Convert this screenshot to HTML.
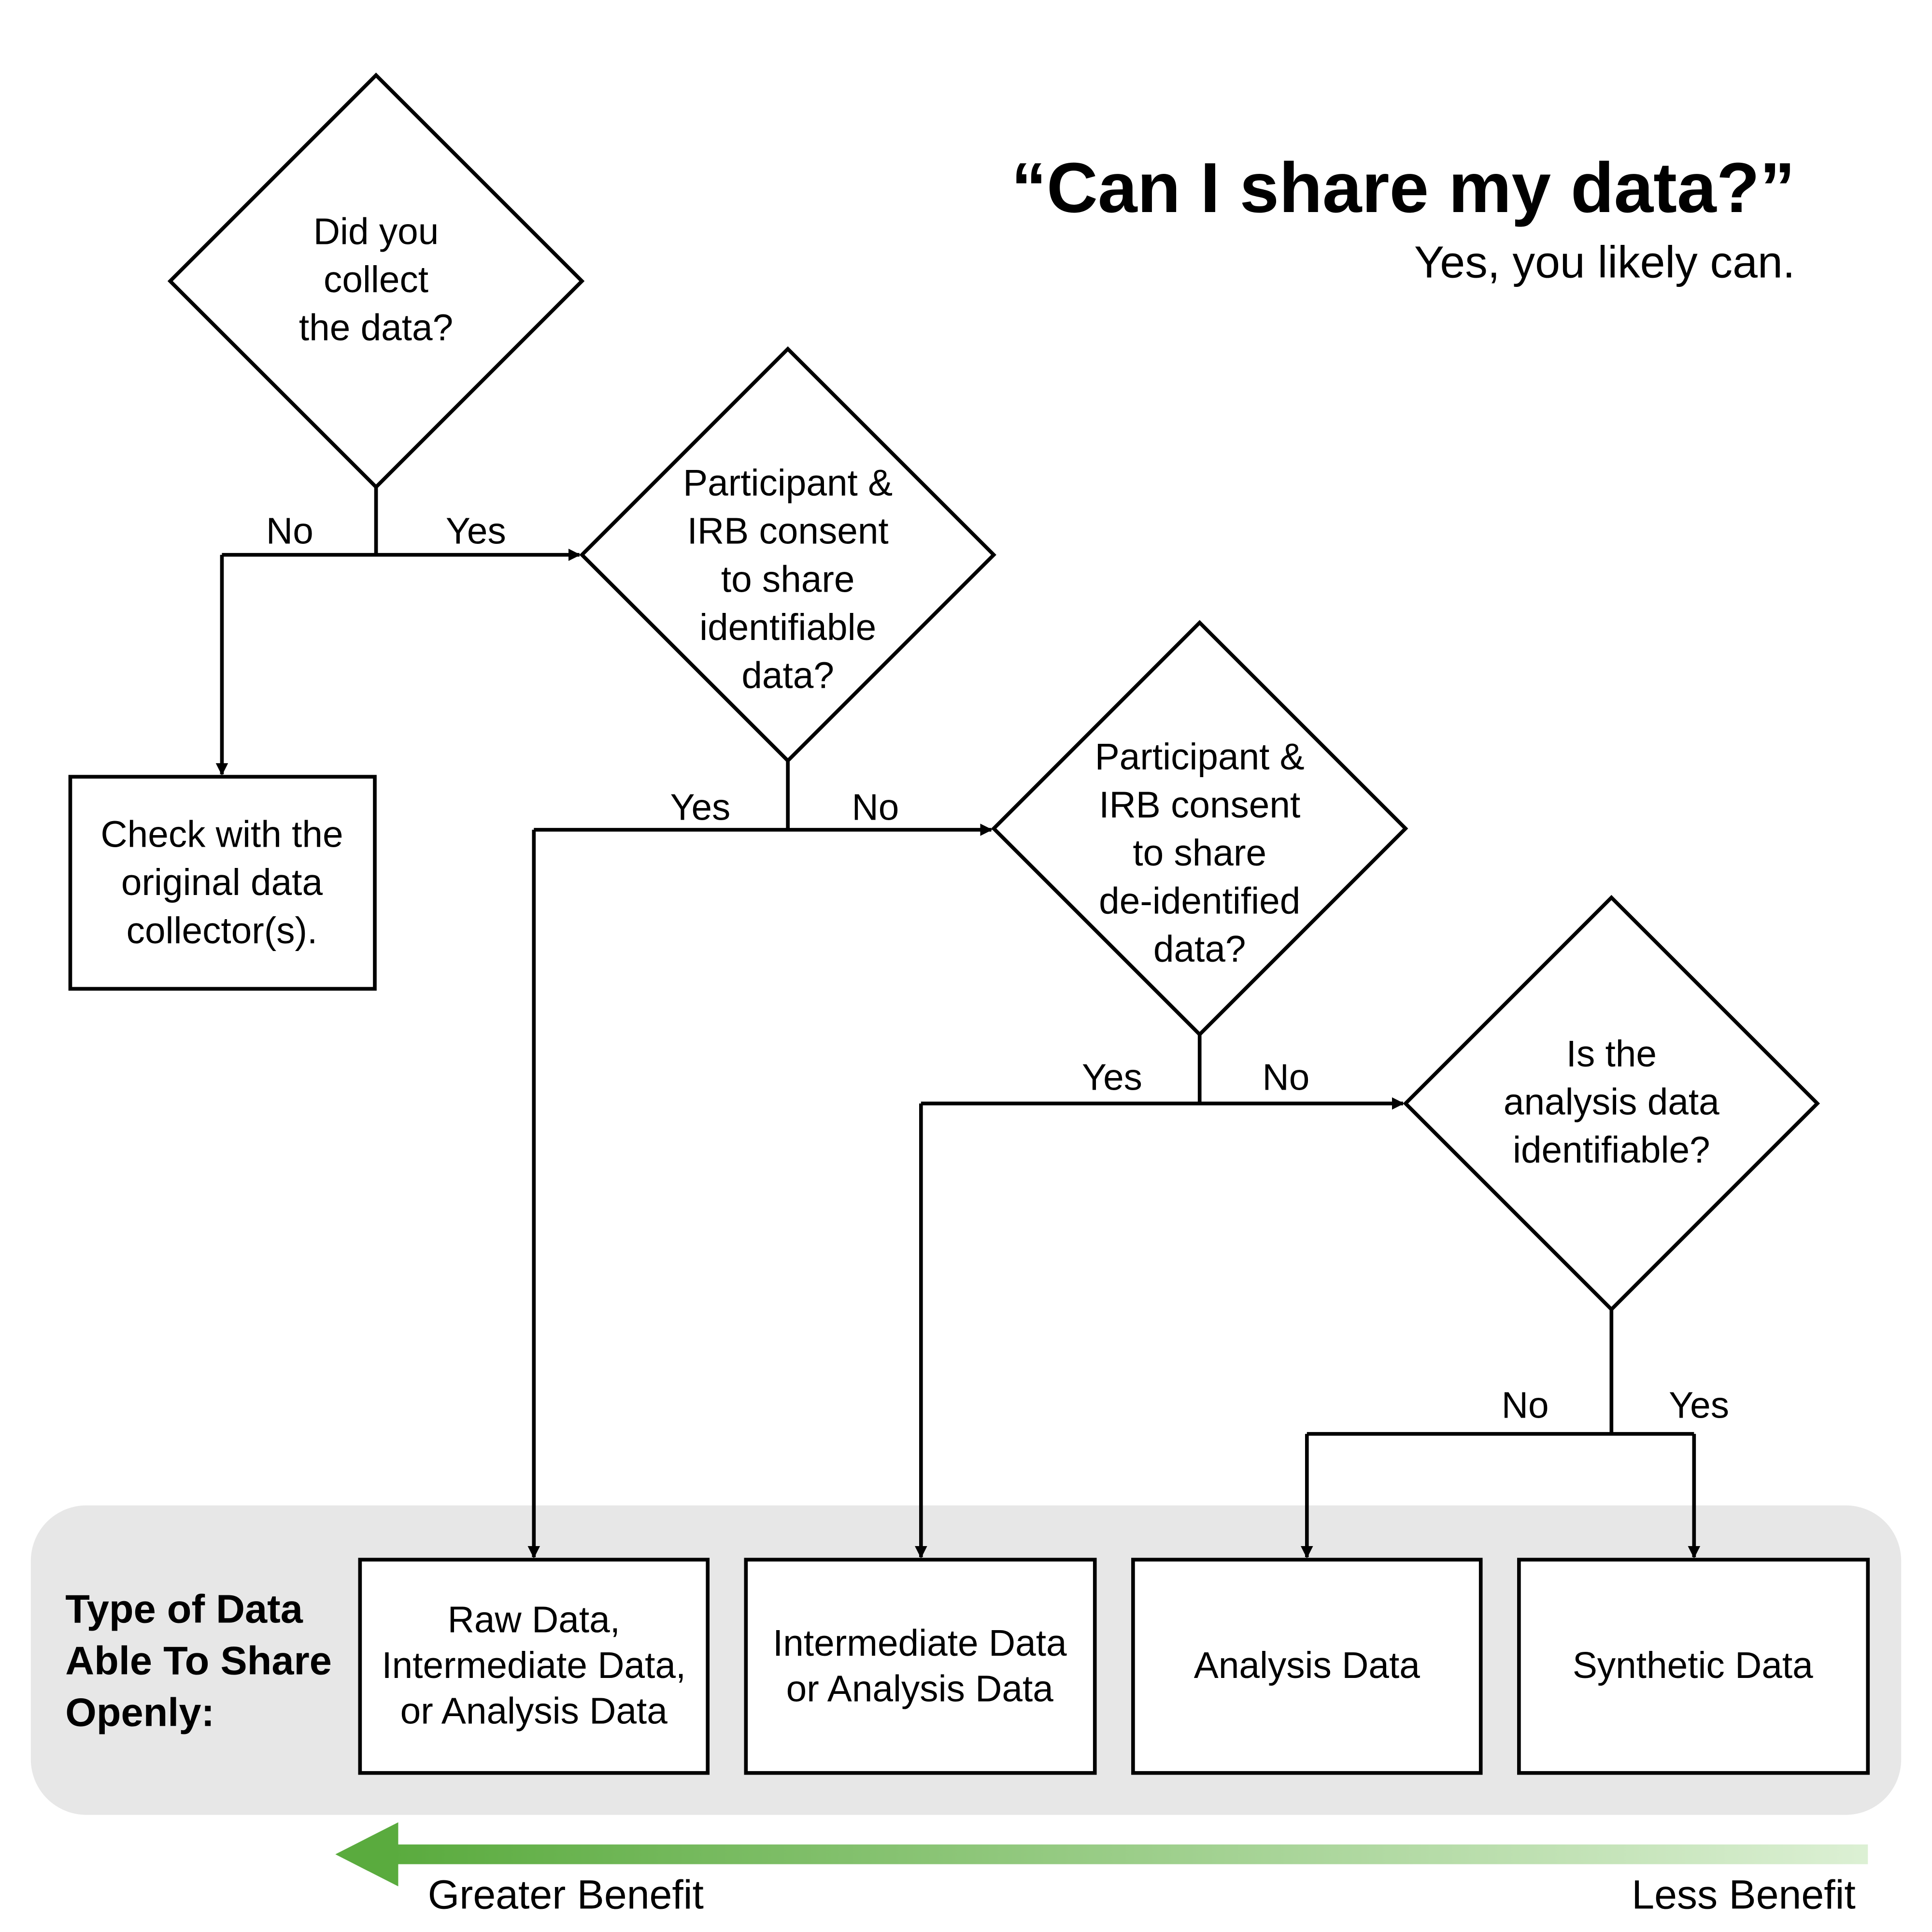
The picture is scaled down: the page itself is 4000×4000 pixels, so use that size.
<!DOCTYPE html>
<html><head><meta charset="utf-8"><style>
html,body{margin:0;padding:0;background:#fff;}
svg{display:block;}
text{font-family:"Liberation Sans",sans-serif;fill:#000;}
</style></head><body>
<svg width="4000" height="4000" viewBox="0 0 1567 1567" xmlns="http://www.w3.org/2000/svg">
<defs>
<marker id="ah" markerWidth="10" markerHeight="10" refX="9" refY="5" orient="auto" markerUnits="userSpaceOnUse">
<path d="M0,0 L10,5 L0,10 z" fill="#000"/></marker>
<linearGradient id="g" x1="0" x2="1" y1="0" y2="0">
<stop offset="0" stop-color="#5aab3e"/><stop offset="1" stop-color="#dcf0d4"/></linearGradient>
</defs>
<rect x="25" y="1221" width="1517" height="251" rx="45" fill="#e7e7e7"/>
<g fill="none" stroke="#000" stroke-width="3">
<polygon points="305,61 472,228 305,395 138,228" fill="#fff"/>
<polygon points="639,283 806,450 639,617 472,450" fill="#fff"/>
<polygon points="973,505 1140,672 973,839 806,672" fill="#fff"/>
<polygon points="1307,728 1474,895 1307,1062 1140,895" fill="#fff"/>
<rect x="57" y="630" width="247" height="172" fill="#fff"/>
<rect x="292" y="1265" width="282" height="173" fill="#fff"/>
<rect x="605" y="1265" width="283" height="173" fill="#fff"/>
<rect x="919" y="1265" width="282" height="173" fill="#fff"/>
<rect x="1232" y="1265" width="283" height="173" fill="#fff"/>
<polyline points="305,395 305,450"/>
<polyline points="180,450 470,450" marker-end="url(#ah)"/>
<polyline points="180,450 180,628" marker-end="url(#ah)"/>
<polyline points="639,617 639,673"/>
<polyline points="433,673 804,673" marker-end="url(#ah)"/>
<polyline points="433,673 433,1263" marker-end="url(#ah)"/>
<polyline points="973,839 973,895"/>
<polyline points="747,895 1138,895" marker-end="url(#ah)"/>
<polyline points="747,895 747,1263" marker-end="url(#ah)"/>
<polyline points="1307,1062 1307,1163"/>
<polyline points="1060,1163 1374,1163"/>
<polyline points="1060,1163 1060,1263" marker-end="url(#ah)"/>
<polyline points="1374,1163 1374,1263" marker-end="url(#ah)"/>
</g>
<rect x="318" y="1496" width="1197" height="16" fill="url(#g)"/>
<polygon points="272,1504 323,1478 323,1530" fill="#5aab3e"/>
<g font-size="30" text-anchor="middle">
<text x="305" y="198">Did you</text><text x="305" y="237">collect</text><text x="305" y="276">the data?</text>
<text x="639" y="402">Participant &amp;</text><text x="639" y="441">IRB consent</text><text x="639" y="480">to share</text><text x="639" y="519">identifiable</text><text x="639" y="558">data?</text>
<text x="973" y="624">Participant &amp;</text><text x="973" y="663">IRB consent</text><text x="973" y="702">to share</text><text x="973" y="741">de-identified</text><text x="973" y="780">data?</text>
<text x="1307" y="865">Is the</text><text x="1307" y="904">analysis data</text><text x="1307" y="943">identifiable?</text>
<text x="180" y="687">Check with the</text><text x="180" y="726">original data</text><text x="180" y="765">collector(s).</text>
<text x="433" y="1324">Raw Data,</text><text x="433" y="1361">Intermediate Data,</text><text x="433" y="1398">or Analysis Data</text>
<text x="746" y="1343">Intermediate Data</text><text x="746" y="1380">or Analysis Data</text>
<text x="1060" y="1361">Analysis Data</text>
<text x="1373" y="1361">Synthetic Data</text>
<text x="235" y="441">No</text><text x="386" y="441">Yes</text>
<text x="568" y="665">Yes</text><text x="710" y="665">No</text>
<text x="902" y="884">Yes</text><text x="1043" y="884">No</text>
<text x="1237" y="1150">No</text><text x="1378" y="1150">Yes</text>
</g>
<g font-size="32.5" font-weight="bold">
<text x="53" y="1316">Type of Data</text><text x="53" y="1358">Able To Share</text><text x="53" y="1400">Openly:</text>
</g>
<text x="1456" y="172" font-size="57.5" font-weight="bold" text-anchor="end">“Can I share my data?”</text>
<text x="1456" y="225" font-size="36.5" text-anchor="end">Yes, you likely can.</text>
<text x="347" y="1548" font-size="33">Greater Benefit</text>
<text x="1505" y="1548" font-size="33" text-anchor="end">Less Benefit</text>
</svg>
</body></html>
